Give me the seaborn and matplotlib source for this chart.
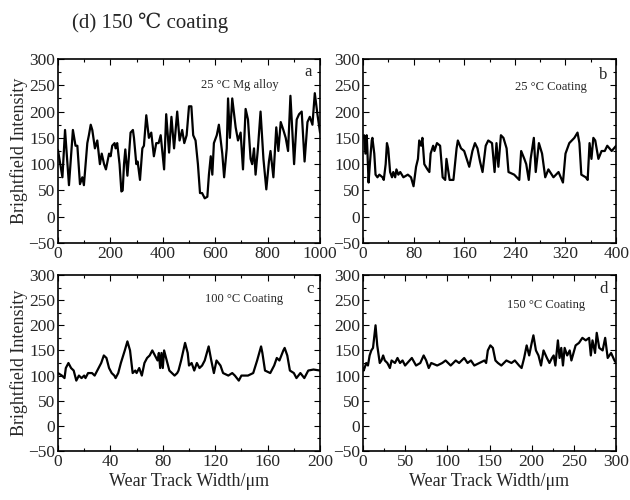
import matplotlib
matplotlib.use("Agg")
import matplotlib.pyplot as plt
import seaborn as sns
import pandas as pd
from matplotlib.ticker import MultipleLocator

# ---------------- data ----------------
a_x = [0, 17, 27, 42, 57, 67, 74, 84, 93, 99, 112, 118, 125, 131, 141, 150, 160, 167, 176, 183,
       195, 201, 207, 216, 220, 226, 235, 242, 247, 252, 257, 265, 270, 277, 286, 290, 299, 304,
       313, 322, 328, 337, 347, 356, 366, 375, 384, 392, 405, 413, 424, 433, 443, 455, 464, 474,
       482, 491, 500, 509, 516, 525, 534, 542, 550, 560, 570, 576, 583, 589, 595, 606, 614, 627,
       634, 644, 649, 656, 665, 678, 687, 697, 706, 716, 725, 735, 741, 748, 754, 763, 773, 784,
       795, 805, 811, 822, 833, 841, 850, 860, 869, 878, 887, 901, 911, 920, 930, 941, 952, 961,
       971, 980, 990, 1000]
a_y = [127, 75, 165, 60, 165, 135, 135, 62, 75, 60, 140, 155, 175, 165, 130, 145, 100, 120, 100, 90,
       120, 115, 135, 140, 130, 140, 100, 48, 50, 100, 128, 78, 110, 160, 165, 150, 100, 105,
       70, 130, 135, 193, 150, 160, 115, 140, 140, 155, 90, 195, 122, 190, 130, 200, 145, 165,
       140, 155, 210, 210, 155, 145, 100, 45, 45, 35, 38, 80, 115, 80, 140, 155, 175, 120,
       75, 130, 225, 150, 225, 170, 145, 160, 90, 205, 185, 110, 100, 130, 80, 130, 200, 110,
       52, 105, 125, 75, 170, 125, 180, 165, 150, 125, 230, 100, 185, 195, 200, 105, 180, 190,
       175, 235, 195, 160]

b_x = [0, 2, 4, 6, 7, 9, 11, 14, 15, 18, 20, 23, 26, 31, 33, 36, 38, 40, 43, 46, 48, 51, 53, 56,
       59, 64, 71, 76, 80, 84, 87, 89, 92, 94, 97, 102, 105, 107, 111, 113, 117, 122, 126, 130,
       132, 137, 143, 148, 150, 155, 160, 168, 173, 177, 181, 185, 189, 194, 198, 204, 208,
       211, 214, 218, 222, 227, 230, 239, 247, 250, 255, 258, 262, 265, 270, 273, 278, 283,
       288, 293, 301, 309, 316, 320, 326, 334, 339, 342, 345, 352, 355, 358, 361, 364, 367,
       372, 377, 382, 386, 393, 400]
b_y = [150, 155, 120, 155, 130, 65, 100, 145, 150, 120, 80, 75, 80, 75, 70, 100, 140, 130, 85, 75,
       85, 75, 90, 80, 85, 75, 80, 75, 58, 95, 110, 145, 135, 150, 100, 90, 85, 120, 135, 125,
       140, 135, 75, 70, 110, 70, 70, 130, 145, 130, 125, 95, 125, 140, 130, 105, 85, 135, 145,
       140, 85, 140, 95, 155, 150, 130, 85, 80, 70, 125, 110, 100, 70, 110, 150, 85, 140, 120,
       75, 90, 75, 85, 65, 120, 140, 150, 160, 140, 80, 75, 70, 140, 110, 150, 145, 110, 125,
       125, 135, 125, 135]

c_x = [0, 3, 5, 6, 8, 10, 12, 14, 16, 18, 20, 21, 23, 26, 28, 31, 33, 35, 37, 39, 41, 43, 44, 46,
       48, 51, 53, 55, 57, 59, 60, 62, 64, 66, 68, 70, 72, 74, 76, 77, 78, 79, 80, 81, 83, 85,
       87, 89, 91, 92, 94, 97, 99, 100, 102, 104, 106, 108, 110, 112, 115, 117, 119, 121, 124,
       126, 130, 133, 135, 138, 140, 145, 149, 152, 155, 156, 158, 162, 165, 167, 169, 172,
       173, 175, 177, 180, 182, 185, 188, 191, 195, 200]
c_y = [105, 100, 95, 115, 125, 115, 110, 90, 100, 95, 100, 95, 105, 105, 100, 115, 125, 140, 135,
       115, 105, 100, 95, 105, 125, 150, 168, 150, 105, 110, 105, 115, 100, 125, 135, 140, 150,
       140, 130, 145, 115, 145, 115, 150, 130, 110, 105, 100, 105, 110, 130, 165, 145, 120, 125,
       110, 125, 115, 120, 130, 158, 130, 105, 130, 120, 105, 100, 105, 100, 90, 100, 100, 105,
       130, 158, 145, 110, 105, 120, 135, 130, 150, 155, 140, 110, 105, 95, 105, 95, 110, 112,
       110]

d_x = [0, 1, 4, 6, 8, 10, 12, 15, 17, 20, 22, 24, 26, 29, 32, 34, 38, 41, 44, 47, 50, 58, 63, 68,
       72, 75, 78, 81, 88, 94, 98, 104, 110, 114, 120, 124, 128, 132, 138, 144, 146, 148, 151,
       154, 157, 160, 164, 170, 176, 180, 185, 188, 191, 194, 197, 200, 202, 205, 208, 211,
       214, 218, 221, 224, 226, 228, 231, 233, 235, 237, 239, 242, 245, 247, 252, 256, 260,
       264, 268, 270, 272, 275, 277, 280, 284, 287, 290, 294, 298, 300]
d_y = [115, 110, 125, 120, 140, 150, 155, 200, 160, 125, 130, 140, 130, 125, 115, 130, 125, 135,
       125, 130, 120, 135, 120, 125, 140, 130, 115, 125, 120, 125, 130, 120, 130, 125, 135, 125,
       130, 120, 125, 130, 125, 150, 160, 155, 130, 125, 120, 130, 125, 130, 120, 115, 135,
       160, 140, 165, 180, 150, 140, 120, 150, 135, 125, 135, 140, 120, 170, 135, 155, 120,
       155, 140, 150, 130, 160, 165, 175, 170, 175, 140, 170, 145, 185, 155, 150, 175, 135,
       145, 130, 125]

panels = [
    (a_x, a_y, (0, 1000), 200, 100, "25 °C Mg alloy", "a"),
    (b_x, b_y, (0, 400), 80, 40, "25 °C Coating", "b"),
    (c_x, c_y, (0, 200), 40, 20, "100 °C Coating", "c"),
    (d_x, d_y, (0, 300), 50, 25, "150 °C Coating", "d"),
]
label_pos = {"a": (0.545, 0.857), "b": (0.60, 0.846), "c": (0.56, 0.866), "d": (0.57, 0.83)}
letter_pos = {"a": (0.97, 0.93), "b": (0.965, 0.915), "c": (0.975, 0.92), "d": (0.965, 0.92)}

# ---------------- style ----------------
sns.set_style("ticks")
serif = ["Liberation Serif", "DejaVu Serif", "Noto Sans CJK SC"]
plt.rcParams["font.family"] = serif

fig = plt.figure(figsize=(6.3, 5.0), dpi=100)
rects = [
    [0.092, 0.514, 0.416, 0.368],
    [0.576, 0.514, 0.402, 0.368],
    [0.092, 0.098, 0.416, 0.352],
    [0.576, 0.098, 0.402, 0.352],
]

for i, (xs, ys, xlim, xmaj, xmin, lab, let) in enumerate(panels):
    ax = fig.add_axes(rects[i])
    df = pd.DataFrame({"x": xs, "y": ys})
    sns.lineplot(data=df, x="x", y="y", ax=ax, color="black", linewidth=1.6,
                 estimator=None, sort=False)
    ax.set_xlim(*xlim)
    ax.set_ylim(-50, 300)
    ax.xaxis.set_major_locator(MultipleLocator(xmaj))
    ax.xaxis.set_minor_locator(MultipleLocator(xmin))
    ax.yaxis.set_major_locator(MultipleLocator(50))
    ax.yaxis.set_minor_locator(MultipleLocator(25))
    ax.tick_params(which="both", direction="in", top=True, right=True, labelsize=12.5,
                   width=0.8, color="black", pad=2)
    ax.tick_params(which="major", length=4)
    ax.tick_params(which="minor", length=2)
    for s in ax.spines.values():
        s.set_linewidth(1.2)
        s.set_color("black")
    ax.set_xlabel("Wear Track Width/μm" if i >= 2 else "", fontsize=13, labelpad=2)
    ax.set_ylabel("Brightfield Intensity" if i % 2 == 0 else "", fontsize=13, labelpad=0)
    ax.text(*label_pos[let], lab, transform=ax.transAxes, fontsize=9, ha="left", va="center")
    ax.text(*letter_pos[let], let, transform=ax.transAxes, fontsize=12, ha="right", va="center")

fig.text(0.115, 0.955, "(d) 150 ℃ coating", fontsize=15, ha="left", va="center",
         family=serif)

fig.savefig("out.png", dpi=100)
